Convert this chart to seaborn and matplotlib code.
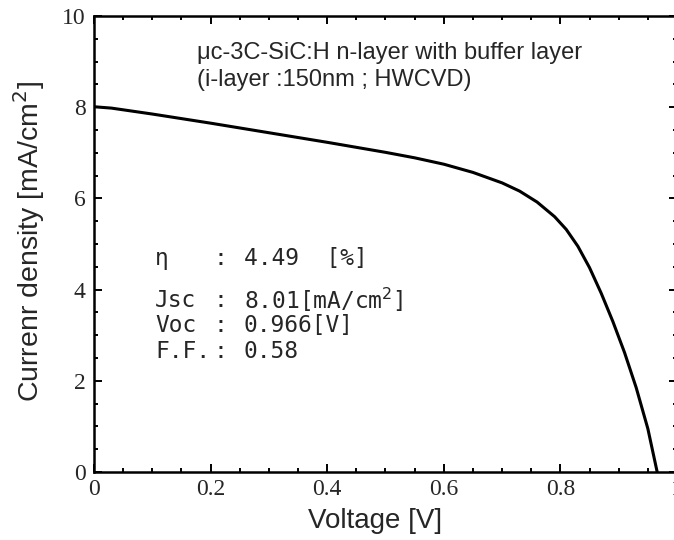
import numpy as np
import pandas as pd
import matplotlib
matplotlib.use("Agg")
import matplotlib.pyplot as plt
import seaborn as sns

# J-V curve
voltage = [0.0, 0.03, 0.1, 0.2, 0.3, 0.4, 0.45, 0.5, 0.55, 0.6, 0.65, 0.7, 0.73,
           0.76, 0.79, 0.81, 0.83, 0.85, 0.87, 0.89, 0.91, 0.93, 0.95, 0.966]
current = [8.01, 7.98, 7.85, 7.65, 7.44, 7.23, 7.12, 7.01, 6.89, 6.75, 6.57, 6.34, 6.16,
           5.92, 5.60, 5.32, 4.95, 4.48, 3.92, 3.30, 2.62, 1.85, 0.95, 0.0]

x_ticks = [0, 0.2, 0.4, 0.6, 0.8, 1.0]
x_tick_labels = ['0', '0.2', '0.4', '0.6', '0.8', '1']
y_ticks = [0, 2, 4, 6, 8, 10]
y_tick_labels = ['0', '2', '4', '6', '8', '10']

param_names = ['η', 'Jsc', 'Voc', 'F.F.']
param_values = ['4.49  [%]', '8.01[mA/cm$^2$]', '0.966[V]', '0.58']
param_y = [4.69, 3.77, 3.22, 2.65]

title_lines = ['μc-3C-SiC:H n-layer with buffer layer', '(i-layer :150nm ; HWCVD)']

df = pd.DataFrame({'Voltage': voltage, 'Current': current})

sns.set_style('ticks')
plt.rcParams['font.family'] = ['Liberation Sans', 'DejaVu Sans']

fig = plt.figure(figsize=(6.74, 5.4), dpi=100)
# right spine sits just past the image edge, as in the reference
ax = fig.add_axes([94 / 674, 1 - 472 / 540, (677 - 94) / 674, (472 - 16) / 540])

sns.lineplot(data=df, x='Voltage', y='Current', color='black', linewidth=2.2, ax=ax)

ax.set_xlim(0, 1)
ax.set_ylim(0, 10)
ax.set_xticks(x_ticks)
ax.set_xticklabels(x_tick_labels, family='Liberation Serif', fontsize=17)
ax.set_yticks(y_ticks)
ax.set_yticklabels(y_tick_labels, family='Liberation Serif', fontsize=17)
ax.set_xticks(np.arange(0, 1.0001, 0.05), minor=True)
ax.set_yticks(np.arange(0, 10.0001, 0.5), minor=True)
ax.tick_params(which='both', direction='in', top=True, right=True, width=1.4, color='black')
ax.tick_params(which='major', length=5.5)
ax.tick_params(axis='y', which='major', pad=6)
ax.tick_params(axis='x', which='major', pad=5)
ax.tick_params(which='minor', length=3)
for s in ax.spines.values():
    s.set_linewidth(1.8)
    s.set_color('black')

ax.set_xlabel('Voltage [V]', fontsize=20)
ax.set_ylabel('Currenr density [mA/cm$^2$]', fontsize=20.5)
ax.xaxis.set_label_coords(0.482, -0.08)
ax.yaxis.set_label_coords(-0.08, 0.506)

ax.text(0.176, 9.19, title_lines[0], fontsize=17, va='center', ha='left')
ax.text(0.176, 8.60, title_lines[1], fontsize=17, va='center', ha='left')

for name, val, yy in zip(param_names, param_values, param_y):
    ax.text(0.105, yy, name, fontsize=16.5, va='center', ha='left', family='DejaVu Sans Mono')
    ax.text(0.205, yy, ':', fontsize=16.5, va='center', ha='left', family='DejaVu Sans Mono')
    ax.text(0.257, yy, val, fontsize=16.5, va='center', ha='left', family='DejaVu Sans Mono')

fig.savefig('out.png', dpi=100)
